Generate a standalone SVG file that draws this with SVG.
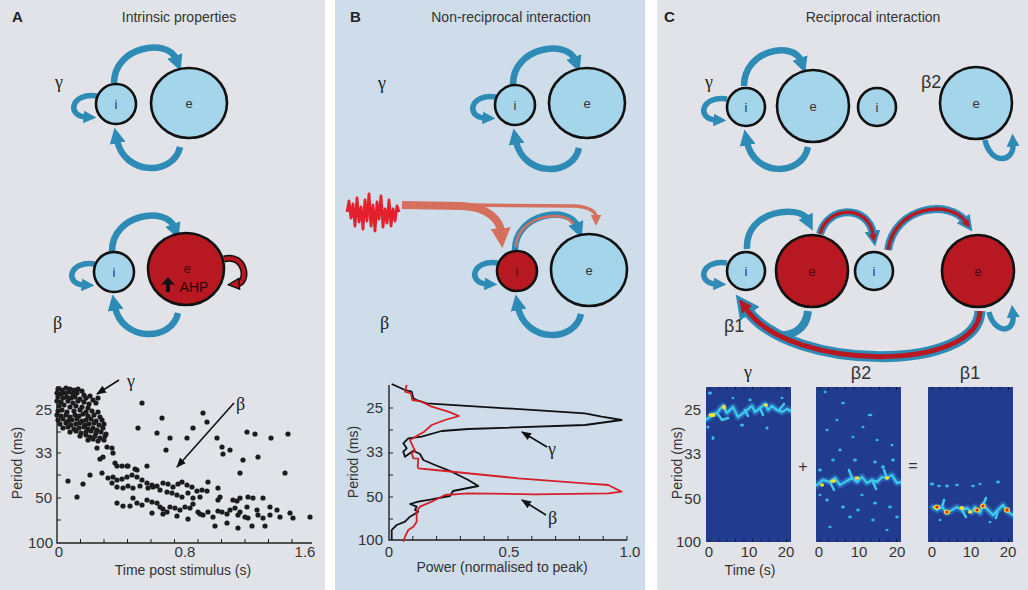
<svg xmlns="http://www.w3.org/2000/svg" width="1028" height="590" viewBox="0 0 1028 590">
<defs>
<style>
.t{font-family:"Liberation Sans",Arial,sans-serif;fill:#333}
.ttl{font-size:14px;text-anchor:middle}
.pl{font-family:"Liberation Sans",Arial,sans-serif;font-size:15px;font-weight:bold;fill:#222}
.tk{font-size:15px}
.r{text-anchor:end}
.m{text-anchor:middle}
.g{font-family:"Liberation Serif","DejaVu Serif",serif;font-size:18px;fill:#222}
.gs{font-family:"Liberation Sans",Arial,sans-serif;font-size:18px;fill:#333}
.nd{stroke:#111;stroke-width:2.6}
.lb{fill:#a5d5ea}
.rd{fill:#b81822}
.nl{font-family:"Liberation Sans",Arial,sans-serif;font-size:13px;text-anchor:middle;fill:#333}
.ba{fill:none;stroke:#2d8bb6;stroke-width:6.5;marker-end:url(#mb)}
.bl{fill:none;stroke:#2d8bb6;stroke-width:5.5;marker-end:url(#mbs)}
.ax{fill:none;stroke:#222;stroke-width:1.4}
.tkl{stroke:#222;stroke-width:1}
.pa{fill:none;stroke:#111;stroke-width:1.6;marker-end:url(#mk)}
.hm{fill:#213c8f}
.cy{fill:none;stroke:#3cc6e8;stroke-width:2.6;stroke-linecap:round;stroke-linejoin:round}
.hal{fill:none;stroke:#2c78cf;stroke-width:7;stroke-linecap:round;stroke-linejoin:round;opacity:.6}
.bb{fill:#36b9e4}
.yl{fill:#f3e22c}
.rr{fill:#e0252a}
.htk{stroke:#0d1a40;stroke-width:1}
</style>
<marker id="mb" viewBox="0 0 10 10" refX="2" refY="5" markerUnits="userSpaceOnUse" markerWidth="16" markerHeight="16" orient="auto"><path d="M0,0 L10,5 L0,10 z" fill="#2d8bb6"/></marker>
<marker id="mbs" viewBox="0 0 10 10" refX="2" refY="5" markerUnits="userSpaceOnUse" markerWidth="13" markerHeight="13" orient="auto"><path d="M0,0 L10,5 L0,10 z" fill="#2d8bb6"/></marker>
<marker id="ms" viewBox="0 0 10 10" refX="2" refY="5" markerUnits="userSpaceOnUse" markerWidth="20" markerHeight="20" orient="auto"><path d="M0,0 L10,5 L0,10 z" fill="#d6705e"/></marker>
<marker id="mst" viewBox="0 0 10 10" refX="2" refY="5" markerUnits="userSpaceOnUse" markerWidth="11" markerHeight="11" orient="auto"><path d="M0,0 L10,5 L0,10 z" fill="#d6705e"/></marker>
<marker id="mrk" viewBox="0 0 12 12" refX="3" refY="6" markerUnits="userSpaceOnUse" markerWidth="13" markerHeight="13" orient="auto"><path d="M1,1 L11,6 L1,11 z" fill="#b81822" stroke="#111" stroke-width="1.3"/></marker>
<marker id="mbig" viewBox="0 0 10 10" refX="2" refY="5" markerUnits="userSpaceOnUse" markerWidth="24" markerHeight="24" orient="auto"><path d="M0,0 L10,5 L0,10 z" fill="#2d8bb6"/></marker>
<marker id="mri" viewBox="0 0 10 10" refX="0" refY="5" markerUnits="userSpaceOnUse" markerWidth="13" markerHeight="13" orient="auto"><path d="M0,0 L10,5 L0,10 z" fill="#b81822"/></marker>
<marker id="mri2" viewBox="0 0 10 10" refX="0" refY="5" markerUnits="userSpaceOnUse" markerWidth="8" markerHeight="8" orient="auto"><path d="M0,0 L10,5 L0,10 z" fill="#b81822"/></marker>
<marker id="mk" viewBox="0 0 10 10" refX="9" refY="5" markerUnits="userSpaceOnUse" markerWidth="10" markerHeight="10" orient="auto"><path d="M0,1 L10,5 L0,9 z" fill="#111"/></marker>
<clipPath id="c1"><rect x="706" y="387" width="85" height="155"/></clipPath>
<clipPath id="c2"><rect x="816" y="387" width="85" height="155"/></clipPath>
<clipPath id="c3"><rect x="928" y="387" width="85" height="155"/></clipPath>
<filter id="bl1" x="-10%" y="-10%" width="120%" height="120%"><feGaussianBlur stdDeviation="0.7"/></filter>
</defs>

<!-- backgrounds -->
<rect x="0" y="0" width="1028" height="590" fill="#ffffff"/>
<rect x="0" y="0" width="325" height="590" fill="#e2e3e8"/>
<rect x="335" y="0" width="310" height="590" fill="#cfdcea"/>
<rect x="657" y="0" width="371" height="590" fill="#e2e3e8"/>

<!-- panel titles -->
<g id="titles">
<text class="pl" x="12" y="22">A</text>
<text class="t ttl" x="179" y="22">Intrinsic properties</text>
<text class="pl" x="350" y="22">B</text>
<text class="t ttl" x="511" y="22">Non-reciprocal interaction</text>
<text class="pl" x="664" y="22">C</text>
<text class="t ttl" x="873" y="22">Reciprocal interaction</text>
<text class="g" x="55" y="88">γ</text>
<text class="g" x="53" y="329">β</text>
<text class="g" x="378" y="89">γ</text>
<text class="g" x="380" y="329">β</text>
<text class="g" x="705" y="88">γ</text>
<text class="gs" x="921" y="88">β2</text>
<text class="gs" x="724" y="332">β1</text>
</g>

<!-- connectors -->
<g id="connectors">
  <g transform="translate(116,104)">
    <path class="ba" d="M-2,-21 C-2,-58 52,-66 60,-45"/>
    <path class="ba" d="M64,43 C58,72 8,72 1,36"/>
    <path class="bl" d="M-19,-8 C-45,-12 -50,12 -30,13"/>
  </g>
  <g transform="translate(114,272)">
    <path class="ba" d="M-2,-21 C-2,-58 52,-66 60,-45"/>
    <path class="ba" d="M64,41 C58,70 8,70 1,35"/>
    <path class="bl" d="M-19,-8 C-45,-12 -50,12 -30,13"/>
  </g>
  <path d="M224,259 C246,253 249,283 237,284" fill="none" stroke="#111" stroke-width="7"/>
  <path d="M224,259 C246,253 249,283 237,284" fill="none" stroke="#b81822" stroke-width="4" marker-end="url(#mrk)"/>
  <g transform="translate(515,105)">
    <path class="ba" d="M-2,-21 C-2,-58 52,-66 60,-45"/>
    <path class="ba" d="M64,43 C58,72 8,72 1,36"/>
    <path class="bl" d="M-19,-8 C-45,-12 -50,12 -30,13"/>
  </g>
  <g transform="translate(517,271)">
    <path class="ba" d="M-2,-21 C-2,-58 52,-66 60,-45"/>
    <path d="M-1,-24 C-1,-55 48,-63 56,-47" fill="none" stroke="#d6705e" stroke-width="2.6"/>
    <path class="ba" d="M64,43 C58,72 8,72 1,36"/>
    <path class="bl" d="M-19,-8 C-45,-12 -50,12 -30,13"/>
  </g>
  <path d="M402,205 L462,206 C488,207 500,220 501,232" fill="none" stroke="#d6705e" stroke-width="8" marker-end="url(#ms)"/>
  <path d="M466,205 L575,206 C590,207 596,212 596,217" fill="none" stroke="#d6705e" stroke-width="3.5" marker-end="url(#mst)"/>
  <g transform="translate(746,107)">
    <path class="ba" d="M-2,-21 C-2,-58 48,-66 55,-46"/>
    <path class="ba" d="M62,40 C56,70 8,70 1,35"/>
    <path class="bl" d="M-19,-8 C-45,-12 -50,12 -30,13"/>
  </g>
  <path class="bl" d="M985,140 C990,164 1014,164 1013,144"/>
  <g transform="translate(746,271)">
    <path class="ba" d="M1,-22 C-1,-62 54,-66 61,-52"/>
    <path class="bl" d="M-19,-8 C-45,-12 -50,12 -30,13"/>
  </g>
  <path d="M808,311 C806,330 792,336 778,335" fill="none" stroke="#2d8bb6" stroke-width="8"/>
  <path d="M820,234 C828,205 868,205 873,234" fill="none" stroke="#2d8bb6" stroke-width="8" marker-end="url(#mb)"/>
  <path d="M820,234 C828,205 868,205 873,234" fill="none" stroke="#b81822" stroke-width="3.4" marker-end="url(#mri2)"/>
  <path d="M888,250 C895,205 950,200 965,221" fill="none" stroke="#2d8bb6" stroke-width="8" marker-end="url(#mb)"/>
  <path d="M888,250 C895,205 950,200 965,221" fill="none" stroke="#b81822" stroke-width="3.4" marker-end="url(#mri2)"/>
  <path d="M980,311 C978,372 792,372 747,310" fill="none" stroke="#2d8bb6" stroke-width="11" marker-end="url(#mbig)"/>
  <path d="M980,311 C978,372 792,372 747,310" fill="none" stroke="#b81822" stroke-width="5" marker-end="url(#mri)"/>
  <path class="bl" d="M989,312 C994,334 1015,334 1013,315"/>
</g>

<!-- nodes -->
<g id="A-top-i"><circle class="nd lb" cx="116" cy="104" r="20"/><text class="nl" x="116" y="109">i</text></g>
<g id="A-top-e"><ellipse class="nd lb" cx="189" cy="103" rx="38" ry="35"/><text class="nl" x="189" y="108">e</text></g>
<g id="A-mid-i"><circle class="nd lb" cx="114" cy="272" r="20"/><text class="nl" x="114" y="277">i</text></g>
<g id="A-mid-e"><ellipse class="nd rd" cx="186" cy="269" rx="38" ry="36"/><text class="nl" x="187" y="273" style="fill:#4a0a0e">e</text>
  <polygon points="161,285 168,277 175,285 170,284 170,292 166,292 166,284" fill="#111"/>
  <text class="nl" x="194" y="292" style="font-size:14px;fill:#2a0508">AHP</text></g>
<g id="B-top-i"><circle class="nd lb" cx="515" cy="105" r="20"/><text class="nl" x="515" y="110">i</text></g>
<g id="B-top-e"><ellipse class="nd lb" cx="587" cy="103" rx="38" ry="35"/><text class="nl" x="587" y="108">e</text></g>
<g id="B-mid-i"><circle class="nd rd" cx="517" cy="271" r="20"/><text class="nl" x="517" y="276" style="fill:#4a0a0e">i</text></g>
<g id="B-mid-e"><ellipse class="nd lb" cx="589" cy="270" rx="38" ry="36"/><text class="nl" x="589" y="275">e</text></g>
<g id="B-signal"><polyline points="347,212 349,201 351,218 353,204 355,226 357,198 359,222 361,207 363,229 365,200 367,221 369,194 371,226 373,205 375,231 377,202 379,219 381,196 383,227 385,209 387,223 389,200 391,226 393,209 395,221 397,206 399,212" fill="none" stroke="#e3202b" stroke-width="2.8" stroke-linejoin="round"/></g>
<g id="C-top-i1"><circle class="nd lb" cx="746" cy="107" r="19"/><text class="nl" x="746" y="112">i</text></g>
<g id="C-top-e1"><circle class="nd lb" cx="813" cy="106" r="36"/><text class="nl" x="813" y="111">e</text></g>
<g id="C-top-i2"><circle class="nd lb" cx="877" cy="107" r="19"/><text class="nl" x="877" y="112">i</text></g>
<g id="C-top-e2"><circle class="nd lb" cx="976" cy="103" r="36"/><text class="nl" x="976" y="108">e</text></g>
<g id="C-mid-i1"><circle class="nd lb" cx="746" cy="271" r="19"/><text class="nl" x="746" y="276">i</text></g>
<g id="C-mid-e1"><circle class="nd rd" cx="812" cy="271" r="36"/><text class="nl" x="812" y="276" style="fill:#4a0a0e">e</text></g>
<g id="C-mid-i2"><circle class="nd lb" cx="874" cy="271" r="19"/><text class="nl" x="874" y="276">i</text></g>
<g id="C-mid-e2"><circle class="nd rd" cx="978" cy="271" r="36"/><text class="nl" x="978" y="276" style="fill:#4a0a0e">e</text></g>

<!-- Plot A -->
<g id="plotA">
<path class="ax" d="M61,387 L57,387 L57,543 L312,543"/>
<path class="tkl" d="M57,410 h4 M57,432 h4 M57,453 h4 M57,475 h4 M57,498 h4 M57,520 h4 M80.5,543 v-4 M104,543 v-4 M127.5,543 v-4 M151,543 v-4 M174.5,543 v-4 M198,543 v-4 M221.5,543 v-4 M245,543 v-4 M268.5,543 v-4 M292,543 v-4"/>
<text class="t tk r" x="52" y="415">25</text>
<text class="t tk r" x="52" y="458">33</text>
<text class="t tk r" x="52" y="503">50</text>
<text class="t tk r" x="53" y="548">100</text>
<text class="t tk m" x="59" y="557">0</text>
<text class="t tk m" x="185" y="557">0.8</text>
<text class="t tk m" x="305" y="557">1.6</text>
<text class="t" style="font-size:14px" text-anchor="middle" x="183" y="575">Time post stimulus (s)</text>
<text class="t" style="font-size:14px" text-anchor="middle" transform="translate(22,463) rotate(-90)">Period (ms)</text>
<g fill="#1c1c1c">
<circle cx="58" cy="389" r="2.6"/><circle cx="62" cy="390" r="2.6"/><circle cx="66" cy="388" r="2.6"/><circle cx="70" cy="389" r="2.6"/><circle cx="74" cy="390" r="2.6"/><circle cx="78" cy="389" r="2.6"/><circle cx="82" cy="391" r="2.6"/>
<circle cx="57" cy="393" r="2.6"/><circle cx="61" cy="394" r="2.6"/><circle cx="65" cy="393" r="2.6"/><circle cx="69" cy="392" r="2.6"/><circle cx="73" cy="394" r="2.6"/><circle cx="77" cy="393" r="2.6"/><circle cx="84" cy="395" r="2.6"/><circle cx="90" cy="396" r="2.6"/>
<circle cx="58" cy="397" r="2.6"/><circle cx="63" cy="398" r="2.6"/><circle cx="67" cy="397" r="2.6"/><circle cx="71" cy="398" r="2.6"/><circle cx="75" cy="397" r="2.6"/><circle cx="80" cy="399" r="2.6"/><circle cx="86" cy="398" r="2.6"/><circle cx="93" cy="400" r="2.6"/><circle cx="98" cy="398" r="2.6"/>
<circle cx="57" cy="401" r="2.6"/><circle cx="61" cy="402" r="2.6"/><circle cx="68" cy="401" r="2.6"/><circle cx="73" cy="403" r="2.6"/><circle cx="78" cy="401" r="2.6"/><circle cx="84" cy="402" r="2.6"/><circle cx="89" cy="404" r="2.6"/><circle cx="96" cy="403" r="2.6"/>
<circle cx="59" cy="406" r="2.6"/><circle cx="64" cy="405" r="2.6"/><circle cx="70" cy="407" r="2.6"/><circle cx="76" cy="406" r="2.6"/><circle cx="82" cy="407" r="2.6"/><circle cx="88" cy="408" r="2.6"/>
<circle cx="58" cy="411" r="2.6"/><circle cx="62" cy="410" r="2.6"/><circle cx="67" cy="412" r="2.6"/><circle cx="74" cy="411" r="2.6"/><circle cx="80" cy="410" r="2.6"/><circle cx="86" cy="412" r="2.6"/><circle cx="92" cy="411" r="2.6"/><circle cx="98" cy="412" r="2.6"/>
<circle cx="57" cy="415" r="2.6"/><circle cx="61" cy="416" r="2.6"/><circle cx="66" cy="415" r="2.6"/><circle cx="70" cy="417" r="2.6"/><circle cx="75" cy="415" r="2.6"/><circle cx="79" cy="416" r="2.6"/><circle cx="83" cy="414" r="2.6"/><circle cx="88" cy="416" r="2.6"/><circle cx="94" cy="415" r="2.6"/><circle cx="100" cy="417" r="2.6"/>
<circle cx="58" cy="420" r="2.6"/><circle cx="63" cy="419" r="2.6"/><circle cx="68" cy="421" r="2.6"/><circle cx="72" cy="420" r="2.6"/><circle cx="77" cy="419" r="2.6"/><circle cx="82" cy="421" r="2.6"/><circle cx="86" cy="420" r="2.6"/><circle cx="91" cy="419" r="2.6"/><circle cx="96" cy="421" r="2.6"/><circle cx="102" cy="420" r="2.6"/>
<circle cx="60" cy="424" r="2.6"/><circle cx="66" cy="423" r="2.6"/><circle cx="71" cy="425" r="2.6"/><circle cx="76" cy="424" r="2.6"/><circle cx="80" cy="423" r="2.6"/><circle cx="85" cy="425" r="2.6"/><circle cx="89" cy="424" r="2.6"/><circle cx="94" cy="423" r="2.6"/><circle cx="99" cy="425" r="2.6"/><circle cx="104" cy="424" r="2.6"/>
<circle cx="63" cy="428" r="2.6"/><circle cx="68" cy="427" r="2.6"/><circle cx="74" cy="429" r="2.6"/><circle cx="79" cy="428" r="2.6"/><circle cx="84" cy="427" r="2.6"/><circle cx="88" cy="429" r="2.6"/><circle cx="93" cy="428" r="2.6"/><circle cx="97" cy="430" r="2.6"/><circle cx="103" cy="428" r="2.6"/>
<circle cx="70" cy="432" r="2.6"/><circle cx="76" cy="431" r="2.6"/><circle cx="81" cy="433" r="2.6"/><circle cx="86" cy="432" r="2.6"/><circle cx="91" cy="431" r="2.6"/><circle cx="96" cy="433" r="2.6"/><circle cx="101" cy="432" r="2.6"/><circle cx="106" cy="434" r="2.6"/>
<circle cx="80" cy="436" r="2.6"/><circle cx="86" cy="435" r="2.6"/><circle cx="90" cy="437" r="2.6"/><circle cx="95" cy="436" r="2.6"/><circle cx="100" cy="438" r="2.6"/><circle cx="105" cy="436" r="2.6"/>
<circle cx="88" cy="440" r="2.6"/><circle cx="93" cy="439" r="2.6"/><circle cx="98" cy="441" r="2.6"/><circle cx="104" cy="440" r="2.6"/>
<circle cx="97" cy="448" r="2.6"/><circle cx="107" cy="447" r="2.6"/><circle cx="112" cy="448" r="2.6"/><circle cx="113" cy="453" r="2.6"/><circle cx="103" cy="457" r="2.6"/><circle cx="100" cy="459" r="2.6"/><circle cx="115" cy="463" r="2.6"/><circle cx="117" cy="466" r="2.6"/><circle cx="122" cy="466" r="2.6"/><circle cx="127" cy="466" r="2.6"/><circle cx="135" cy="469" r="2.6"/><circle cx="147" cy="466" r="2.6"/><circle cx="102" cy="473" r="2.6"/><circle cx="90" cy="475" r="2.6"/><circle cx="83" cy="484" r="2.6"/><circle cx="68" cy="481" r="2.6"/><circle cx="77" cy="497" r="2.6"/>
<circle cx="108" cy="478" r="2.6"/><circle cx="113" cy="477" r="2.6"/><circle cx="117" cy="480" r="2.6"/><circle cx="122" cy="479" r="2.6"/><circle cx="127" cy="477" r="2.6"/><circle cx="132" cy="475" r="2.6"/><circle cx="137" cy="477" r="2.6"/><circle cx="142" cy="480" r="2.6"/><circle cx="147" cy="483" r="2.6"/><circle cx="152" cy="485" r="2.6"/><circle cx="157" cy="486" r="2.6"/><circle cx="163" cy="483" r="2.6"/><circle cx="168" cy="484" r="2.6"/><circle cx="173" cy="487" r="2.6"/><circle cx="178" cy="484" r="2.6"/><circle cx="182" cy="482" r="2.6"/><circle cx="187" cy="485" r="2.6"/><circle cx="192" cy="487" r="2.6"/><circle cx="197" cy="491" r="2.6"/><circle cx="202" cy="490" r="2.6"/><circle cx="207" cy="491" r="2.6"/>
<circle cx="112" cy="483" r="2.6"/><circle cx="117" cy="487" r="2.6"/><circle cx="123" cy="488" r="2.6"/><circle cx="128" cy="486" r="2.6"/><circle cx="133" cy="488" r="2.6"/><circle cx="140" cy="486" r="2.6"/><circle cx="148" cy="488" r="2.6"/><circle cx="153" cy="487" r="2.6"/><circle cx="160" cy="490" r="2.6"/><circle cx="167" cy="492" r="2.6"/><circle cx="172" cy="493" r="2.6"/><circle cx="177" cy="495" r="2.6"/><circle cx="182" cy="497" r="2.6"/><circle cx="188" cy="493" r="2.6"/><circle cx="193" cy="498" r="2.6"/><circle cx="200" cy="497" r="2.6"/><circle cx="208" cy="482" r="2.6"/><circle cx="218" cy="488" r="2.6"/><circle cx="220" cy="497" r="2.6"/><circle cx="233" cy="500" r="2.6"/><circle cx="240" cy="498" r="2.6"/><circle cx="248" cy="497" r="2.6"/><circle cx="253" cy="498" r="2.6"/><circle cx="263" cy="498" r="2.6"/><circle cx="270" cy="507" r="2.6"/>
<circle cx="117" cy="503" r="2.6"/><circle cx="123" cy="506" r="2.6"/><circle cx="130" cy="506" r="2.6"/><circle cx="133" cy="498" r="2.6"/><circle cx="137" cy="503" r="2.6"/><circle cx="142" cy="505" r="2.6"/><circle cx="147" cy="500" r="2.6"/><circle cx="152" cy="502" r="2.6"/><circle cx="157" cy="503" r="2.6"/><circle cx="160" cy="507" r="2.6"/><circle cx="163" cy="509" r="2.6"/><circle cx="167" cy="512" r="2.6"/><circle cx="170" cy="507" r="2.6"/><circle cx="175" cy="508" r="2.6"/><circle cx="180" cy="510" r="2.6"/><circle cx="185" cy="507" r="2.6"/><circle cx="190" cy="508" r="2.6"/><circle cx="193" cy="504" r="2.6"/><circle cx="198" cy="512" r="2.6"/><circle cx="203" cy="515" r="2.6"/><circle cx="208" cy="512" r="2.6"/><circle cx="213" cy="517" r="2.6"/><circle cx="218" cy="511" r="2.6"/><circle cx="222" cy="512" r="2.6"/><circle cx="227" cy="514" r="2.6"/><circle cx="230" cy="510" r="2.6"/><circle cx="235" cy="508" r="2.6"/><circle cx="238" cy="515" r="2.6"/><circle cx="240" cy="512" r="2.6"/><circle cx="245" cy="517" r="2.6"/><circle cx="248" cy="518" r="2.6"/><circle cx="257" cy="510" r="2.6"/><circle cx="258" cy="515" r="2.6"/><circle cx="263" cy="518" r="2.6"/><circle cx="270" cy="515" r="2.6"/><circle cx="277" cy="510" r="2.6"/><circle cx="280" cy="517" r="2.6"/><circle cx="290" cy="513" r="2.6"/><circle cx="293" cy="518" r="2.6"/><circle cx="310" cy="517" r="2.6"/>
<circle cx="152" cy="513" r="2.6"/><circle cx="163" cy="514" r="2.6"/><circle cx="177" cy="516" r="2.6"/><circle cx="188" cy="519" r="2.6"/><circle cx="200" cy="514" r="2.6"/><circle cx="215" cy="526" r="2.6"/><circle cx="227" cy="523" r="2.6"/><circle cx="238" cy="528" r="2.6"/><circle cx="252" cy="526" r="2.6"/><circle cx="265" cy="526" r="2.6"/><circle cx="218" cy="500" r="2.6"/><circle cx="237" cy="501" r="2.6"/><circle cx="247" cy="507" r="2.6"/>
<circle cx="142" cy="403" r="2.6"/><circle cx="162" cy="418" r="2.6"/><circle cx="138" cy="428" r="2.6"/><circle cx="157" cy="433" r="2.6"/><circle cx="170" cy="438" r="2.6"/><circle cx="187" cy="438" r="2.6"/><circle cx="193" cy="428" r="2.6"/><circle cx="203" cy="413" r="2.6"/><circle cx="207" cy="422" r="2.6"/><circle cx="217" cy="438" r="2.6"/><circle cx="222" cy="447" r="2.6"/><circle cx="223" cy="454" r="2.6"/><circle cx="230" cy="450" r="2.6"/><circle cx="243" cy="460" r="2.6"/><circle cx="240" cy="473" r="2.6"/><circle cx="258" cy="457" r="2.6"/><circle cx="247" cy="432" r="2.6"/><circle cx="255" cy="434" r="2.6"/><circle cx="271" cy="438" r="2.6"/><circle cx="288" cy="434" r="2.6"/><circle cx="285" cy="473" r="2.6"/><circle cx="166" cy="450" r="2.6"/><circle cx="128" cy="466" r="2.6"/><circle cx="137" cy="470" r="2.6"/>
</g>
<text class="g" x="127" y="387">γ</text>
<path class="pa" d="M119,380 L97,394"/>
<text class="g" x="236" y="410">β</text>
<path class="pa" d="M234,403 L177,467"/>
</g>

<!-- Plot B -->
<g id="plotB">
<path class="ax" d="M389,385 L389,540 L627,540"/>
<path class="tkl" d="M389,408 h4 M389,430 h4 M389,453 h4 M389,475 h4 M389,497 h4 M389,519 h4 M412.8,540 v-4 M436.6,540 v-4 M460.4,540 v-4 M484.2,540 v-4 M508,540 v-4 M531.8,540 v-4 M555.6,540 v-4 M579.4,540 v-4 M603.2,540 v-4 M627,540 v-4"/>
<text class="t tk r" x="383" y="413">25</text>
<text class="t tk r" x="383" y="457">33</text>
<text class="t tk r" x="383" y="502">50</text>
<text class="t tk r" x="383" y="545">100</text>
<text class="t tk m" x="389" y="557">0</text>
<text class="t tk m" x="509" y="557">0.5</text>
<text class="t tk m" x="630" y="557">1.0</text>
<text class="t" style="font-size:14px" text-anchor="middle" x="502" y="572">Power (normalised to peak)</text>
<text class="t" style="font-size:14px" text-anchor="middle" transform="translate(358,462) rotate(-90)">Period (ms)</text>
<polyline fill="none" stroke="#111" stroke-width="1.8" stroke-linejoin="round" points="391.7,384 405,390 411.7,391.7 413.3,398.3 416.7,400 426.7,403.3 585,413.3 601.7,416.7 621.7,420 585,425 468.3,429 441.7,431 421.7,436.7 408.3,438.3 403.3,443.3 406.7,448.3 403.3,451.7 405,456.7 413.3,450.7 420,454 423.3,460 435,465 451.7,471.7 468.3,480 478.3,486 453,491 450,496 444,497 431.7,499.3 418.3,501.7 410,504 416.7,506.7 415,510 418.3,511.7 410,516.7 405,521.7 396.7,525 393.3,528.3 391.7,530 391.7,540"/>
<polyline fill="none" stroke="#d4202a" stroke-width="1.8" stroke-linejoin="round" points="406.7,385 405,391.7 411,393.3 412.3,400 421.7,401.7 431.7,406.7 448.3,411.7 459,416 445,420 431.7,425 424.3,431.7 418.3,435 410,440 413.3,447.3 415,450.7 411.7,453.3 413.3,458.3 418.3,458.7 417.7,466.7 418.3,468.3 435,470 485,475 518.3,478.3 585,483.3 608.3,485 611.7,486.7 621.7,491.7 608.3,493.3 535,494.3 468.3,493.3 445,495 431.7,501.7 420,506.7 416.7,511.7 416.7,516.7 416.7,521.7 413.3,526.7 408.3,530 405,536.7 403.3,541.7"/>
<text class="g" x="548" y="455">γ</text>
<path class="pa" d="M547,447 L522,432"/>
<text class="g" x="548" y="524">β</text>
<path class="pa" d="M546,515 L522,500"/>
</g>

<!-- Plot C heatmaps -->
<g id="plotC">
<text class="t tk r" x="701" y="415">25</text>
<text class="t tk r" x="701" y="459">33</text>
<text class="t tk r" x="701" y="504">50</text>
<text class="t tk r" x="701" y="547">100</text>
<text class="t" style="font-size:14px" text-anchor="middle" transform="translate(682,463) rotate(-90)">Period (ms)</text>
<text class="g" x="748" y="378" text-anchor="middle">γ</text>
<text class="gs" x="861" y="379" text-anchor="middle">β2</text>
<text class="gs" x="970" y="379" text-anchor="middle">β1</text>
<text class="t" style="font-size:16px" text-anchor="middle" x="803" y="472">+</text>
<text class="t" style="font-size:16px" text-anchor="middle" x="913" y="471">=</text>
<text class="t tk m" x="709" y="557">0</text><text class="t tk m" x="749" y="557">10</text><text class="t tk m" x="786" y="557">20</text>
<text class="t tk m" x="819" y="557">0</text><text class="t tk m" x="859" y="557">10</text><text class="t tk m" x="897" y="557">20</text>
<text class="t tk m" x="932" y="557">0</text><text class="t tk m" x="971" y="557">10</text><text class="t tk m" x="1008" y="557">20</text>
<text class="t" style="font-size:14px" text-anchor="middle" x="750" y="575">Time (s)</text>

<rect class="hm" x="706" y="387" width="85" height="155"/>
<g clip-path="url(#c1)" filter="url(#bl1)">
<path class="hal" d="M707,419 L710,417 713,414 717,413 720,409 723,406 727,413 730,410 733,407 738,417 742,414 747,410 752,406 755,412 760,408 765,404 768,410 772,406 777,410 782,412 787,409 791,411"/>
<path class="cy" d="M707,419 L710,417 713,414 717,413 720,409 723,406 727,413 730,410 733,407 738,417 742,414 747,410 752,406 755,412 760,408 765,404 768,410 772,406 777,410 782,412 787,409 791,411"/>
<path class="cy" d="M717,413 L722,420 728,418 M745,410 L748,416 M760,408 L763,415 M779,410 L784,404"/>
<ellipse class="yl" cx="712" cy="415" rx="3.5" ry="2"/><ellipse class="yl" cx="724" cy="407" rx="2" ry="2.5"/><ellipse class="yl" cx="766" cy="405" rx="2" ry="1.8"/>
<ellipse class="bb" cx="710" cy="393" rx="2" ry="1.5"/><ellipse class="bb" cx="750" cy="400" rx="1.8" ry="1.4"/><ellipse class="bb" cx="713" cy="438" rx="1.5" ry="2"/><ellipse class="bb" cx="742" cy="425" rx="2" ry="1.5"/><ellipse class="bb" cx="767" cy="428" rx="1.6" ry="1.6"/><ellipse class="bb" cx="708" cy="427" rx="1.5" ry="1.5"/><ellipse class="bb" cx="733" cy="398" rx="1.4" ry="1.2"/><ellipse class="bb" cx="782" cy="398" rx="1.5" ry="1.2"/>
</g>
<path class="htk" d="M710,387 v3 M718.5,387 v3 M727,387 v3 M735.5,387 v3 M744,387 v3 M752.5,387 v3 M761,387 v3 M769.5,387 v3 M778,387 v3 M786.5,387 v3 M710,542 v-3 M718.5,542 v-3 M727,542 v-3 M735.5,542 v-3 M744,542 v-3 M752.5,542 v-3 M761,542 v-3 M769.5,542 v-3 M778,542 v-3 M786.5,542 v-3"/>

<rect class="hm" x="816" y="387" width="85" height="155"/>
<g clip-path="url(#c2)" filter="url(#bl1)">
<path class="hal" d="M817,485 L823,480 830,482 835,478 840,485 845,482 852,478 857,482 862,477 867,483 872,480 877,482 882,477 887,478 892,475 897,483 901,482"/>
<path class="cy" d="M817,485 L823,480 830,482 835,478 840,485 845,482 852,478 857,482 862,477 867,483 872,480 877,482 882,477 887,478 892,475 897,483 901,482"/>
<path class="cy" d="M830,482 L834,490 M852,478 L849,470 M872,480 L876,489 M887,478 L884,470"/>
<ellipse class="yl" cx="822" cy="485" rx="2" ry="1.8"/><ellipse class="yl" cx="833" cy="481" rx="3" ry="1.8"/><ellipse class="yl" cx="857" cy="478" rx="2.5" ry="1.8"/><ellipse class="yl" cx="887" cy="478" rx="2.2" ry="1.8"/>
<g class="bb">
<ellipse cx="825" cy="392" rx="1.5" ry="1.2"/><ellipse cx="843" cy="403" rx="1.8" ry="1.3"/><ellipse cx="870" cy="415" rx="2.5" ry="1.2"/><ellipse cx="827" cy="430" rx="1.6" ry="1.3"/><ellipse cx="840" cy="450" rx="1.8" ry="1.4"/><ellipse cx="820" cy="470" rx="2" ry="1.6"/><ellipse cx="833" cy="460" rx="1.8" ry="1.5"/><ellipse cx="855" cy="460" rx="2" ry="1.5"/><ellipse cx="875" cy="462" rx="1.8" ry="1.5"/><ellipse cx="883" cy="467" rx="2" ry="1.8"/><ellipse cx="893" cy="460" rx="2" ry="1.6"/><ellipse cx="827" cy="500" rx="1.8" ry="1.5"/><ellipse cx="843" cy="507" rx="2" ry="1.5"/><ellipse cx="858" cy="510" rx="1.8" ry="1.5"/><ellipse cx="875" cy="503" rx="2" ry="1.6"/><ellipse cx="890" cy="507" rx="1.8" ry="1.4"/><ellipse cx="830" cy="527" rx="1.6" ry="1.3"/><ellipse cx="850" cy="517" rx="1.8" ry="1.4"/><ellipse cx="873" cy="520" rx="1.8" ry="1.4"/><ellipse cx="887" cy="530" rx="1.6" ry="1.3"/><ellipse cx="897" cy="517" rx="1.8" ry="1.4"/><ellipse cx="853" cy="437" rx="1.5" ry="1.2"/><ellipse cx="877" cy="440" rx="1.6" ry="1.3"/><ellipse cx="837" cy="420" rx="1.5" ry="1.2"/><ellipse cx="863" cy="427" rx="1.5" ry="1.2"/><ellipse cx="892" cy="445" rx="1.5" ry="1.2"/><ellipse cx="820" cy="495" rx="1.5" ry="1.3"/><ellipse cx="862" cy="495" rx="1.6" ry="1.3"/>
</g>
</g>
<path class="htk" d="M820,387 v3 M828.5,387 v3 M837,387 v3 M845.5,387 v3 M854,387 v3 M862.5,387 v3 M871,387 v3 M879.5,387 v3 M888,387 v3 M896.5,387 v3 M820,542 v-3 M828.5,542 v-3 M837,542 v-3 M845.5,542 v-3 M854,542 v-3 M862.5,542 v-3 M871,542 v-3 M879.5,542 v-3 M888,542 v-3 M896.5,542 v-3"/>

<rect class="hm" x="928" y="387" width="85" height="155"/>
<g clip-path="url(#c3)" filter="url(#bl1)">
<g class="bb"><ellipse cx="932" cy="484" rx="2.2" ry="1.5"/><ellipse cx="939" cy="486" rx="1.8" ry="1.3"/><ellipse cx="947" cy="486" rx="2" ry="1.4"/><ellipse cx="957" cy="485" rx="1.8" ry="1.3"/><ellipse cx="973" cy="486" rx="1.8" ry="1.3"/><ellipse cx="980" cy="484" rx="1.6" ry="1.3"/><ellipse cx="998" cy="482" rx="2" ry="1.4"/><ellipse cx="940" cy="520" rx="1.5" ry="1.2"/><ellipse cx="990" cy="522" rx="1.5" ry="1.2"/></g>
<path class="hal" d="M933,507 L937,510 942,507 947,513 952,510 957,507 962,510 967,508 972,512 975,507 980,513 983,505 988,510 993,515 998,510 1003,505 1008,512 1013,515"/>
<path class="cy" d="M933,507 L937,510 942,507 947,513 952,510 957,507 962,510 967,508 972,512 975,507 980,513 983,505 988,510 993,515 998,510 1003,505 1008,512 1013,515"/>
<path class="cy" d="M942,507 L944,500 M962,510 L966,517 M983,505 L986,498 M998,510 L996,518"/>
<ellipse class="yl" cx="937" cy="507" rx="3.2" ry="2.6"/><ellipse class="yl" cx="947" cy="512" rx="3" ry="2.6"/><ellipse class="yl" cx="977" cy="510" rx="3" ry="2.6"/><ellipse class="yl" cx="983" cy="506" rx="3" ry="2.6"/><ellipse class="yl" cx="1007" cy="510" rx="3" ry="2.8"/><ellipse class="yl" cx="962" cy="508" rx="2.4" ry="2"/><ellipse class="yl" cx="970" cy="512" rx="2" ry="1.8"/>
<ellipse class="rr" cx="937" cy="507" rx="1.8" ry="1.5"/><ellipse class="rr" cx="947" cy="512" rx="1.7" ry="1.5"/><ellipse class="rr" cx="977" cy="510" rx="1.7" ry="1.5"/><ellipse class="rr" cx="983" cy="506" rx="1.7" ry="1.6"/><ellipse class="rr" cx="1007" cy="510" rx="1.8" ry="1.7"/>
</g>
<path class="htk" d="M932,387 v3 M940.5,387 v3 M949,387 v3 M957.5,387 v3 M966,387 v3 M974.5,387 v3 M983,387 v3 M991.5,387 v3 M1000,387 v3 M1008.5,387 v3 M932,542 v-3 M940.5,542 v-3 M949,542 v-3 M957.5,542 v-3 M966,542 v-3 M974.5,542 v-3 M983,542 v-3 M991.5,542 v-3 M1000,542 v-3 M1008.5,542 v-3"/>
</g>
</svg>
